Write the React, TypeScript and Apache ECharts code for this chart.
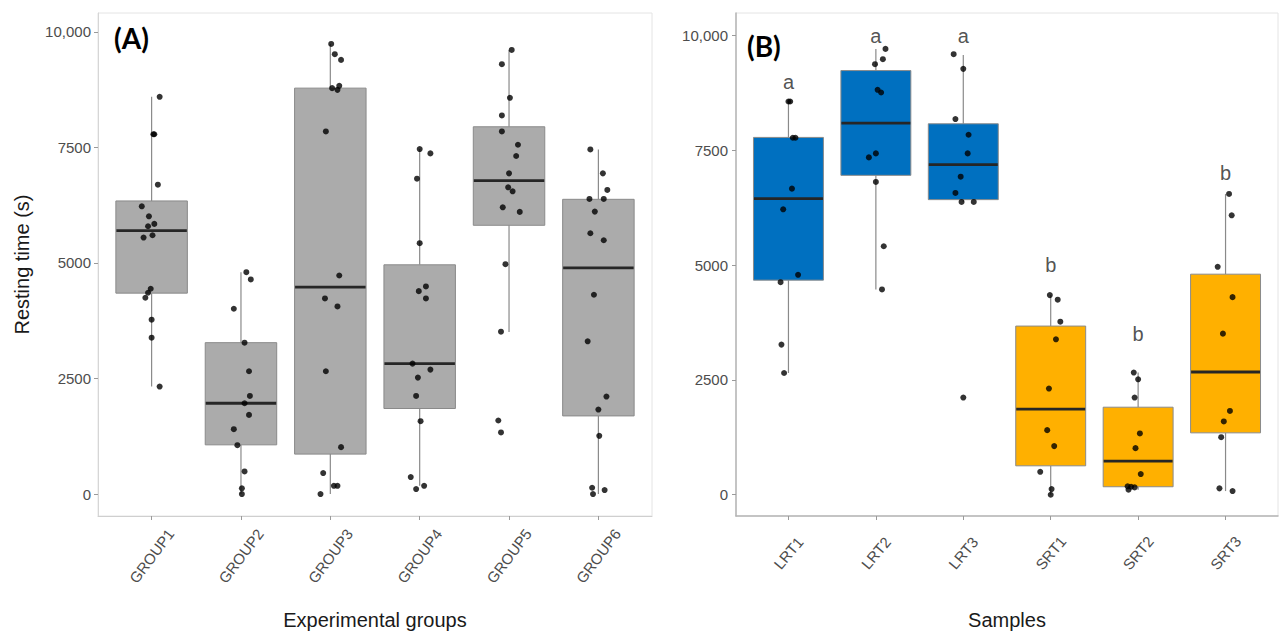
import React, { useEffect, useRef } from "react";
import * as echarts from "echarts";

// ---------- DATA ----------
const groupsA = ["GROUP1", "GROUP2", "GROUP3", "GROUP4", "GROUP5", "GROUP6"];
const samplesB = ["LRT1", "LRT2", "LRT3", "SRT1", "SRT2", "SRT3"];
const yTicks = [0, 2500, 5000, 7500, 10000];

// box stats: [min, Q1, median, Q3, max]
const boxStatsA = [
  [2326, 4348, 5702, 6343, 8596],
  [0, 1065, 1965, 3276, 4801],
  [0, 864, 4477, 8784, 9741],
  [179, 1851, 2823, 4961, 7466],
  [3506, 5816, 6782, 7948, 9611],
  [0, 1691, 4896, 6378, 7458],
];
const boxStatsB = [
  [2652, 4674, 6450, 7783, 8565],
  [4472, 6957, 8096, 9239, 9711],
  [6378, 6428, 7189, 8080, 9580],
  [0, 630, 1863, 3674, 4348],
  [109, 174, 733, 1907, 2661],
  [80, 1348, 2674, 4804, 6552],
];
// fill group index for B (0 = LRT blue, 1 = SRT orange)
const colorGroupB = [0, 0, 0, 1, 1, 1];

// observations: [jitter (category units), value]
const pointsA = [
  [[0.09, 8596], [0.02, 7786], [0.03, 7786], [0.07, 6695], [-0.11, 6227], [-0.03, 6011], [-0.04, 5795], [0.03, 5846], [-0.09, 5551], [0.01, 5600], [-0.01, 4443], [-0.04, 4356], [-0.07, 4248], [0, 3773], [0, 3384], [0.09, 2326]],
  [[0.06, 4801], [0.11, 4644], [-0.08, 4010], [0.04, 3276], [0.09, 2657], [0.1, 2123], [0.04, 1965], [0.09, 1713], [-0.08, 1404], [-0.04, 1058], [0.04, 490], [0.01, 123], [0.01, 0]],
  [[0.01, 9741], [0.05, 9518], [0.12, 9395], [0.1, 8834], [0.02, 8784], [0.08, 8747], [-0.05, 7847], [0.1, 4730], [-0.06, 4233], [0.08, 4060], [-0.05, 2657], [0.12, 1015], [-0.08, 454], [0.04, 179], [0.08, 179], [-0.11, 0]],
  [[0, 7466], [0.12, 7372], [-0.03, 6825], [0, 5428], [-0.01, 4391], [0.07, 4492], [0.07, 4233], [-0.08, 2823], [0.12, 2693], [-0.02, 2520], [-0.04, 2123], [0.01, 1577], [-0.1, 367], [-0.04, 108], [0.05, 179]],
  [[0.03, 9611], [-0.08, 9302], [0.01, 8575], [-0.08, 8193], [-0.08, 7847], [0.1, 7559], [0.08, 7315], [0, 6940], [-0.01, 6638], [0.04, 6551], [-0.07, 6205], [0.12, 6106], [-0.04, 4974], [-0.09, 3514], [-0.12, 1592], [-0.09, 1333]],
  [[-0.09, 7458], [0.05, 6940], [0.1, 6581], [-0.1, 6386], [0.06, 6386], [-0.04, 6112], [-0.09, 5644], [0.06, 5492], [-0.05, 4313], [-0.12, 3305], [0.09, 2110], [0, 1829], [0.01, 1259], [-0.07, 136], [-0.06, 0], [0.07, 86]],
];
const pointsB = [
  [[0, 8565], [0.02, 8565], [0.05, 7776], [0.08, 7776], [0.04, 6667], [-0.06, 6217], [0.11, 4791], [-0.09, 4630], [-0.08, 3270], [-0.05, 2652]],
  [[0.11, 9711], [0.08, 9487], [-0.01, 9378], [0.02, 8820], [0.06, 8761], [0, 7435], [-0.08, 7348], [0, 6813], [0.09, 5413], [0.07, 4472]],
  [[-0.11, 9596], [0, 9276], [-0.09, 8183], [0.06, 7841], [0.05, 7435], [-0.03, 6928], [-0.09, 6574], [-0.02, 6378], [0.12, 6378], [0, 2117]],
  [[-0.01, 4348], [0.08, 4248], [0.11, 3770], [0.06, 3385], [-0.02, 2313], [-0.04, 1407], [0.04, 1059], [-0.12, 500], [0.01, 124], [0, 0]],
  [[-0.05, 2661], [0, 2515], [-0.04, 2117], [0.02, 1335], [-0.03, 1015], [0.03, 450], [-0.12, 183], [-0.08, 174], [-0.04, 160], [-0.11, 109]],
  [[0.04, 6552], [0.07, 6087], [-0.09, 4965], [0.08, 4304], [-0.03, 3509], [0.05, 1826], [-0.02, 1596], [-0.05, 1254], [-0.07, 139], [0.08, 80]],
];

// significance letters and their heights
const lettersB = ["a", "a", "a", "b", "b", "b"];
const letterY = [9000, 10000, 10000, 5000, 3500, 7000];

// ---------- STYLE ----------
const FONT = "Liberation Sans, Arial, sans-serif";
const fillA = ["#ababab"];
const fillB = ["#0070c0", "#ffb000"];

function boxRender(fills: string[]) {
  return (params: any, api: any) => {
    const x = api.value(0);
    const lo = api.coord([x, api.value(1)]);
    const q1 = api.coord([x, api.value(2)]);
    const md = api.coord([x, api.value(3)]);
    const q3 = api.coord([x, api.value(4)]);
    const hi = api.coord([x, api.value(5)]);
    const w = api.size([0.8, 0])[0];
    const fill = fills[api.value(6)];
    const grey = "#8a8a8a";
    return {
      type: "group",
      children: [
        { type: "line", shape: { x1: hi[0], y1: hi[1], x2: q3[0], y2: q3[1] }, style: { stroke: grey, lineWidth: 1.2 } },
        { type: "line", shape: { x1: q1[0], y1: q1[1], x2: lo[0], y2: lo[1] }, style: { stroke: grey, lineWidth: 1.2 } },
        { type: "rect", shape: { x: q3[0] - w / 2, y: q3[1], width: w, height: q1[1] - q3[1] }, style: { fill, stroke: grey, lineWidth: 1 } },
        { type: "line", shape: { x1: md[0] - w / 2 + 0.5, y1: md[1], x2: md[0] + w / 2 - 0.5, y2: md[1] }, style: { stroke: "#262626", lineWidth: 2.8 } },
      ],
    };
  };
}

function xAxisCfg(grid: number, cats: string[], name: string, rot: number, margin: number, lineColor: string, lineW: number) {
  return {
    type: "value",
    gridIndex: grid,
    min: 0.4,
    max: 6.6,
    name,
    nameLocation: "middle",
    nameGap: 94,
    nameTextStyle: { fontFamily: FONT, fontSize: 20, color: "#1a1a1a" },
    axisLine: { show: true, onZero: false, lineStyle: { color: lineColor, width: lineW } },
    axisTick: { show: true, length: 4, lineStyle: { color: "#9a9a9a" }, customValues: [1, 2, 3, 4, 5, 6] },
    axisLabel: {
      customValues: [1, 2, 3, 4, 5, 6],
      formatter: (v: number) => cats[Math.round(v) - 1],
      rotate: rot,
      align: "center",
      verticalAlign: "middle",
      margin,
      fontFamily: FONT,
      fontSize: 15,
      color: "#4d4d4d",
    },
    splitLine: { show: false },
  };
}

function yAxisCfg(grid: number, min: number, max: number, name: string, lineColor: string, lineW: number, margin: number) {
  return {
    type: "value",
    gridIndex: grid,
    min,
    max,
    name,
    nameLocation: "middle",
    nameGap: 66,
    nameTextStyle: { fontFamily: FONT, fontSize: 20, color: "#1a1a1a" },
    axisLine: { show: true, onZero: false, lineStyle: { color: lineColor, width: lineW } },
    axisTick: { show: true, length: 4, lineStyle: { color: "#9a9a9a" }, customValues: yTicks },
    axisLabel: {
      customValues: yTicks,
      formatter: (v: number) => (v >= 10000 ? "10,000" : String(v)),
      margin: margin,
      fontFamily: FONT,
      fontSize: 15,
      color: "#4d4d4d",
    },
    splitLine: { show: false },
  };
}

export default function App() {
  const ref = useRef<HTMLDivElement>(null);
  useEffect(() => {
    if (!ref.current) return;
    const chart = echarts.init(ref.current, null, { renderer: "svg" });

    const boxDataA = boxStatsA.map((s, i) => [i + 1, ...s, 0]);
    const boxDataB = boxStatsB.map((s, i) => [i + 1, ...s, colorGroupB[i]]);
    const ptsA: number[][] = [];
    pointsA.forEach((g, i) => g.forEach((p) => ptsA.push([i + 1 + p[0], p[1]])));
    const ptsB: number[][] = [];
    pointsB.forEach((g, i) => g.forEach((p) => ptsB.push([i + 1 + p[0], p[1]])));
    const letterData = lettersB.map((l, i) => ({ name: l, value: [i + 1, letterY[i]] }));

    chart.setOption({
      animation: false,
      backgroundColor: "#ffffff",
      grid: [
        { left: 98, top: 13, width: 554, height: 504, show: true, borderColor: "#e4e4e4", borderWidth: 1, backgroundColor: "transparent" },
        { left: 736, top: 13, width: 542, height: 504, show: true, borderColor: "#e4e4e4", borderWidth: 1, backgroundColor: "transparent" },
      ],
      xAxis: [
        xAxisCfg(0, groupsA, "Experimental groups", 53, 40, "#cfcfcf", 1),
        xAxisCfg(1, samplesB, "Samples", 50, 37, "#b5b5b5", 1.5),
      ],
      yAxis: [
        yAxisCfg(0, -475, 10410, "Resting time (s)", "#d6d6d6", 1, 7),
        yAxisCfg(1, -463, 10493, "", "#b5b5b5", 1.5, 8),
      ],
      series: [
        {
          type: "custom",
          xAxisIndex: 0,
          yAxisIndex: 0,
          renderItem: boxRender(fillA),
          encode: { x: 0, y: [1, 2, 3, 4, 5] },
          data: boxDataA,
          z: 2,
        },
        {
          type: "custom",
          xAxisIndex: 1,
          yAxisIndex: 1,
          renderItem: boxRender(fillB),
          encode: { x: 0, y: [1, 2, 3, 4, 5] },
          data: boxDataB,
          z: 2,
        },
        {
          type: "scatter",
          xAxisIndex: 0,
          yAxisIndex: 0,
          symbolSize: 6,
          itemStyle: { color: "#000000" },
          data: ptsA,
          z: 5,
        },
        {
          type: "scatter",
          xAxisIndex: 1,
          yAxisIndex: 1,
          symbolSize: 6,
          itemStyle: { color: "#000000" },
          data: ptsB,
          z: 5,
        },
        {
          type: "scatter",
          xAxisIndex: 1,
          yAxisIndex: 1,
          symbolSize: 1,
          itemStyle: { color: "rgba(0,0,0,0)" },
          label: {
            show: true,
            position: "inside",
            formatter: (p: any) => p.name,
            fontFamily: FONT,
            fontSize: 20,
            color: "#262626",
          },
          data: letterData,
          z: 6,
        },
      ],
      graphic: [
        { type: "text", left: 114, top: 24, style: { text: "(A)", font: "bold 28px Lato, sans-serif", fill: "#000" } },
        { type: "text", left: 747, top: 32, style: { text: "(B)", font: "bold 28px Lato, sans-serif", fill: "#000" } },
      ],
    });
    return () => chart.dispose();
  }, []);
  return <div ref={ref} style={{ position: "fixed", left: 0, top: 0, width: 1279, height: 635 }} />;
}
